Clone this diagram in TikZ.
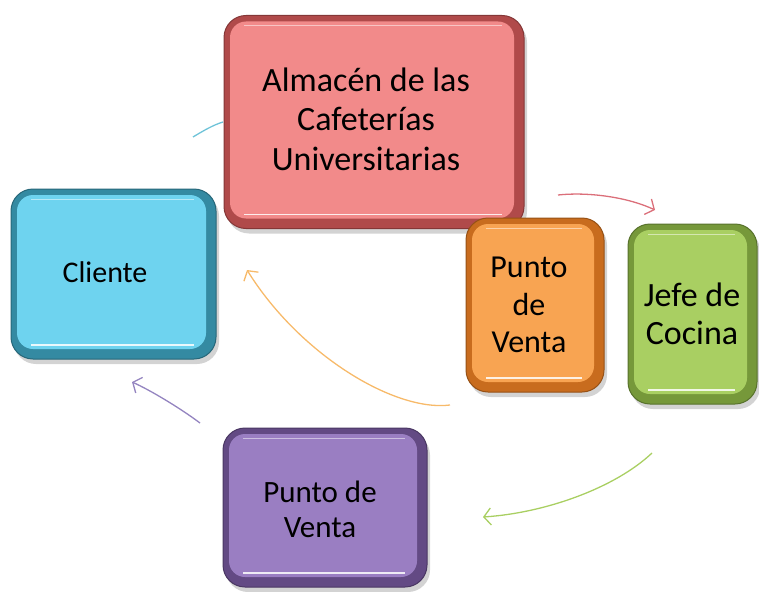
\documentclass[tikz,border=0pt]{standalone}
\usepackage{fontspec}
\setmainfont{Carlito}
\usetikzlibrary{shadows,arrows.meta}
\definecolor{redF}{HTML}{F28A8A}\definecolor{redD}{HTML}{B04A4A}
\definecolor{cyaF}{HTML}{6ED3EF}\definecolor{cyaD}{HTML}{348AA2}
\definecolor{oraF}{HTML}{F8A452}\definecolor{oraD}{HTML}{C86C1E}
\definecolor{greF}{HTML}{A9CF62}\definecolor{greD}{HTML}{76983A}
\definecolor{purF}{HTML}{9A7EC2}\definecolor{purD}{HTML}{634A84}
\definecolor{cyaA}{HTML}{6EC3D8}\definecolor{redA}{HTML}{DB6F7A}
\definecolor{oraA}{HTML}{F7BA6A}\definecolor{greA}{HTML}{A9CF62}
\definecolor{purA}{HTML}{9484C0}
\tikzset{
  bevelbox/.style 2 args={rounded corners=22pt, fill=#2, draw=#2!75!black, line width=1pt,
    inner sep=0pt,
    drop shadow={shadow xshift=3pt, shadow yshift=-5pt, opacity=0.35},
    path picture={
      \fill[#1, rounded corners=16pt] ([shift={(6pt,-6pt)}]path picture bounding box.north west) rectangle ([shift={(-10pt,10pt)}]path picture bounding box.south east);
      \draw[white, line width=1.6pt, opacity=0.85] ([shift={(20pt,14pt)}]path picture bounding box.south west) -- ([shift={(-22pt,14pt)}]path picture bounding box.south east);
      \draw[white, line width=1pt, opacity=0.5] ([shift={(20pt,-10pt)}]path picture bounding box.north west) -- ([shift={(-22pt,-10pt)}]path picture bounding box.north east);
    }},
  boxtext/.style={align=center, text=black, inner sep=0pt},
  flow/.style={line width=1.3pt, -{Straight Barb[length=7pt,width=17pt,line width=1.3pt]}},
  plain/.style={line width=1.3pt}
}
\begin{document}
\begin{tikzpicture}[x=1pt,y=-1pt]
\useasboundingbox (0,0) rectangle (759,591);
% connectors (behind boxes)
\coordinate (c1) at (193,137); \coordinate (c2) at (223,122);
\draw[plain, cyaA] (c1) .. controls (203,131) and (213,125) .. (c2);
\node[bevelbox={redF}{redD}, minimum width=300pt, minimum height=213pt] (alm) at (374,122) {};
\node[boxtext, font=\fontsize{34}{39.5}\selectfont] (almt) at (366,119) {Almac\'en de las\\Cafeter\'ias\\Universitarias};
\node[bevelbox={cyaF}{cyaD}, minimum width=205pt, minimum height=170pt] (cli) at (113.5,274) {};
\node[boxtext, font=\fontsize{30}{34}\selectfont] (clit) at (105,272) {Cliente};
\node[bevelbox={oraF}{oraD}, minimum width=138pt, minimum height=174pt] (pv1) at (535,305) {};
\node[boxtext, font=\fontsize{32}{37.5}\selectfont] (pv1t) at (529,305) {Punto\\de\\Venta};
\node[bevelbox={greF}{greD}, minimum width=129pt, minimum height=180pt] (jef) at (692.5,314) {};
\node[boxtext, font=\fontsize{34}{37.5}\selectfont] (jeft) at (692,314) {Jefe de\\Cocina};
\node[bevelbox={purF}{purD}, minimum width=204pt, minimum height=159pt] (pv2) at (325,507.5) {};
\node[boxtext, font=\fontsize{31}{35}\selectfont] (pv2t) at (320,509) {Punto de\\Venta};
% arrows
\coordinate (r1) at (558,195); \coordinate (r2) at (655,210);
\draw[flow, redA] (r1) .. controls (585,192) and (625,196) .. (r2);
\coordinate (o1) at (450,405); \coordinate (o2) at (247,270);
\draw[flow, oraA] (o1) .. controls (395,412) and (300,355) .. (o2);
\coordinate (g1) at (652,453); \coordinate (g2) at (483,517);
\draw[flow, greA] (g1) .. controls (615,488) and (545,513) .. (g2);
\coordinate (p1) at (200,423); \coordinate (p2) at (132,382);
\draw[flow, purA] (p1) .. controls (180,408) and (150,390) .. (p2);
\end{tikzpicture}
\end{document}
